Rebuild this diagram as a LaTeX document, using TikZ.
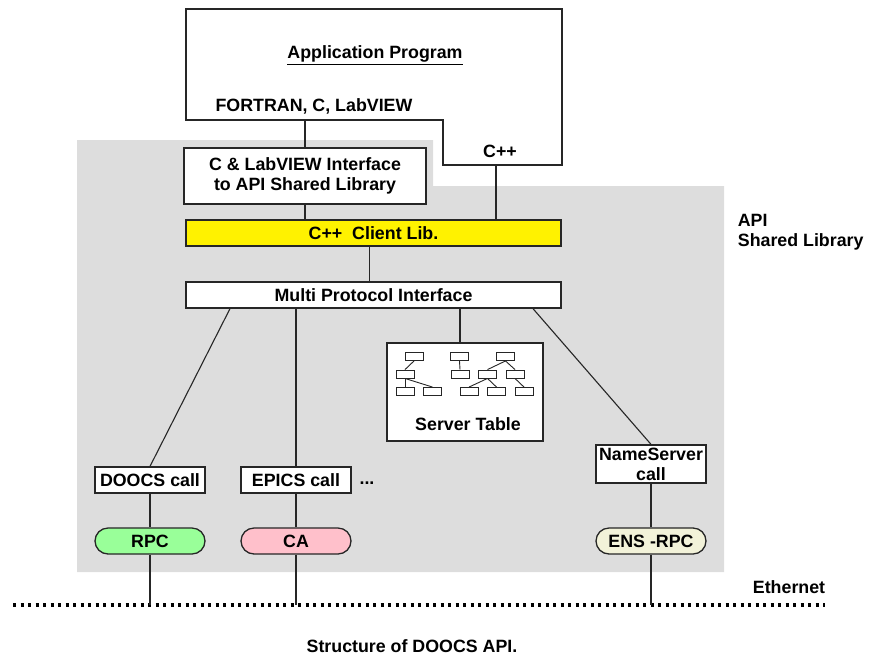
\documentclass[tikz,border=0pt]{standalone}
\usepackage{fontspec}
\setmainfont{Liberation Sans}

\definecolor{apigray}{RGB}{221,221,221}
\definecolor{rpcgreen}{RGB}{153,255,153}
\definecolor{capink}{RGB}{255,192,203}
\definecolor{enscream}{RGB}{242,242,217}

\begin{document}
\begin{tikzpicture}[x=1pt,y=-1pt,                  % pixel grid, y down
                    font=\fontsize{17.8}{20}\selectfont\bfseries,
                    line width=1.1pt,draw=black!85,
                    box/.style={draw,fill=white,line width=1.3pt,inner sep=0pt,align=center},
                    proto/.style={box,rounded corners=13pt,minimum width=110pt,minimum height=26pt},
                    icon/.style={draw,fill=white,line width=0.9pt,minimum width=18pt,minimum height=8pt,inner sep=0pt}]

\useasboundingbox (0,0) rectangle (872,657);


%%%% API shared library area
\fill[apigray] (77,140) -- (433,140) -- (433,186) -- (724,186) -- (724,572) -- (77,572) -- cycle;
\node[anchor=west,align=left] (apilbl) at (734,232) {API\\Shared Library};


%%%% application program
\draw[line width=1.3pt] (186,9) -- (562,9) -- (562,165) -- (443,165) -- (443,120) -- (186,120) -- cycle;
\node (app) at (375,55) {\underline{Application Program}};
\node (fortran) at (314,106) {FORTRAN, C, LabVIEW};
\node (cpp) at (500,151) {C++};
\coordinate (appL) at (305,120);
\coordinate (appR) at (496,165);


%%%% interface, client lib, multi protocol
\node[box,minimum width=242pt,minimum height=56pt] (cif) at (305,176) {C \& LabVIEW Interface\\to API Shared Library};
\node[box,fill=yellow,minimum width=375pt,minimum height=26pt] (clib) at (373.5,233) {C++\ \ Client Lib.};
\node[box,minimum width=375pt,minimum height=26pt] (mpi) at (373.5,295) {Multi Protocol Interface};


%%%% server table
\node[box,minimum width=156pt,minimum height=98pt] (stab) at (465,392) {};
\node[anchor=base] (stlbl) at (468,430) {Server Table};

% tree icons
\node[icon] (a1) at (414,356.5) {};
\node[icon] (a2) at (405,374) {};
\node[icon] (a3) at (405,391.5) {};
\node[icon] (a4) at (432.5,391.5) {};

\node[icon] (b1) at (459.5,356.5) {};
\node[icon] (b2) at (460,374) {};

\node[icon] (c1) at (505.5,356.5) {};
\node[icon] (c2) at (487.5,374) {};
\node[icon] (c3) at (515,374) {};
\node[icon] (c4) at (469,391.5) {};
\node[icon] (c5) at (496.5,391.5) {};
\node[icon] (c6) at (524,391.5) {};

\draw[line width=0.9pt] (a1.south) -- (a2.north);
\draw[line width=0.9pt] (a2.south) -- (a3.north);
\draw[line width=0.9pt] (a2.south) -- (a4.north);
\draw[line width=0.9pt] (b1.south) -- (b2.north);
\draw[line width=0.9pt] (c1.south) -- (c2.north);
\draw[line width=0.9pt] (c1.south) -- (c3.north);
\draw[line width=0.9pt] (c2.south) -- (c4.north);
\draw[line width=0.9pt] (c2.south) -- (c5.north);
\draw[line width=0.9pt] (c3.south) -- (c6.north);


%%%% calls
\node[box,minimum width=110pt,minimum height=26pt] (doocs) at (150,480) {DOOCS call};
\node[box,minimum width=110pt,minimum height=26pt] (epics) at (296,480) {EPICS call};
\node[anchor=base] (etc) at (367,484) {...};
\node[box,minimum width=110pt,minimum height=38pt] (nscall) at (651,464) {NameServer\\call};


%%%% protocols
\node[proto,fill=rpcgreen] (rpc) at (150,541) {RPC};
\node[proto,fill=capink] (ca) at (296,541) {CA};
\node[proto,fill=enscream] (ens) at (651,541) {ENS -RPC};


%%%% ethernet
\coordinate (ethL) at (13,605);
\coordinate (ethR) at (825,605);
\draw[black,line width=3.2pt,dash pattern=on 3.2pt off 4.3pt] (ethL) -- (ethR);
\node[anchor=base east] (ethlbl) at (829,593) {Ethernet};

\node (caption) at (412,646) {Structure of DOOCS API.};


%% connectors
\draw (appL) -- (cif.north);
\draw (appR) -- (appR |- clib.north);
\draw (cif.south) -- (cif.south |- clib.north);
\draw ([xshift=-4pt]clib.south) -- ([xshift=-4pt]mpi.north);

\draw ([xshift=-143.5pt]mpi.south) -- (doocs.north);
\draw (epics.north |- mpi.south) -- (epics.north);
\draw ([xshift=86.5pt]mpi.south) -- ([xshift=-5pt]stab.north);
\draw ([xshift=159.5pt]mpi.south) -- (nscall.north);

\draw (doocs) -- (rpc);
\draw (epics) -- (ca);
\draw (nscall) -- (ens);

\draw (rpc) -- (rpc |- ethL);
\draw (ca) -- (ca |- ethL);
\draw (ens) -- (ens |- ethL);

\end{tikzpicture}
\end{document}
